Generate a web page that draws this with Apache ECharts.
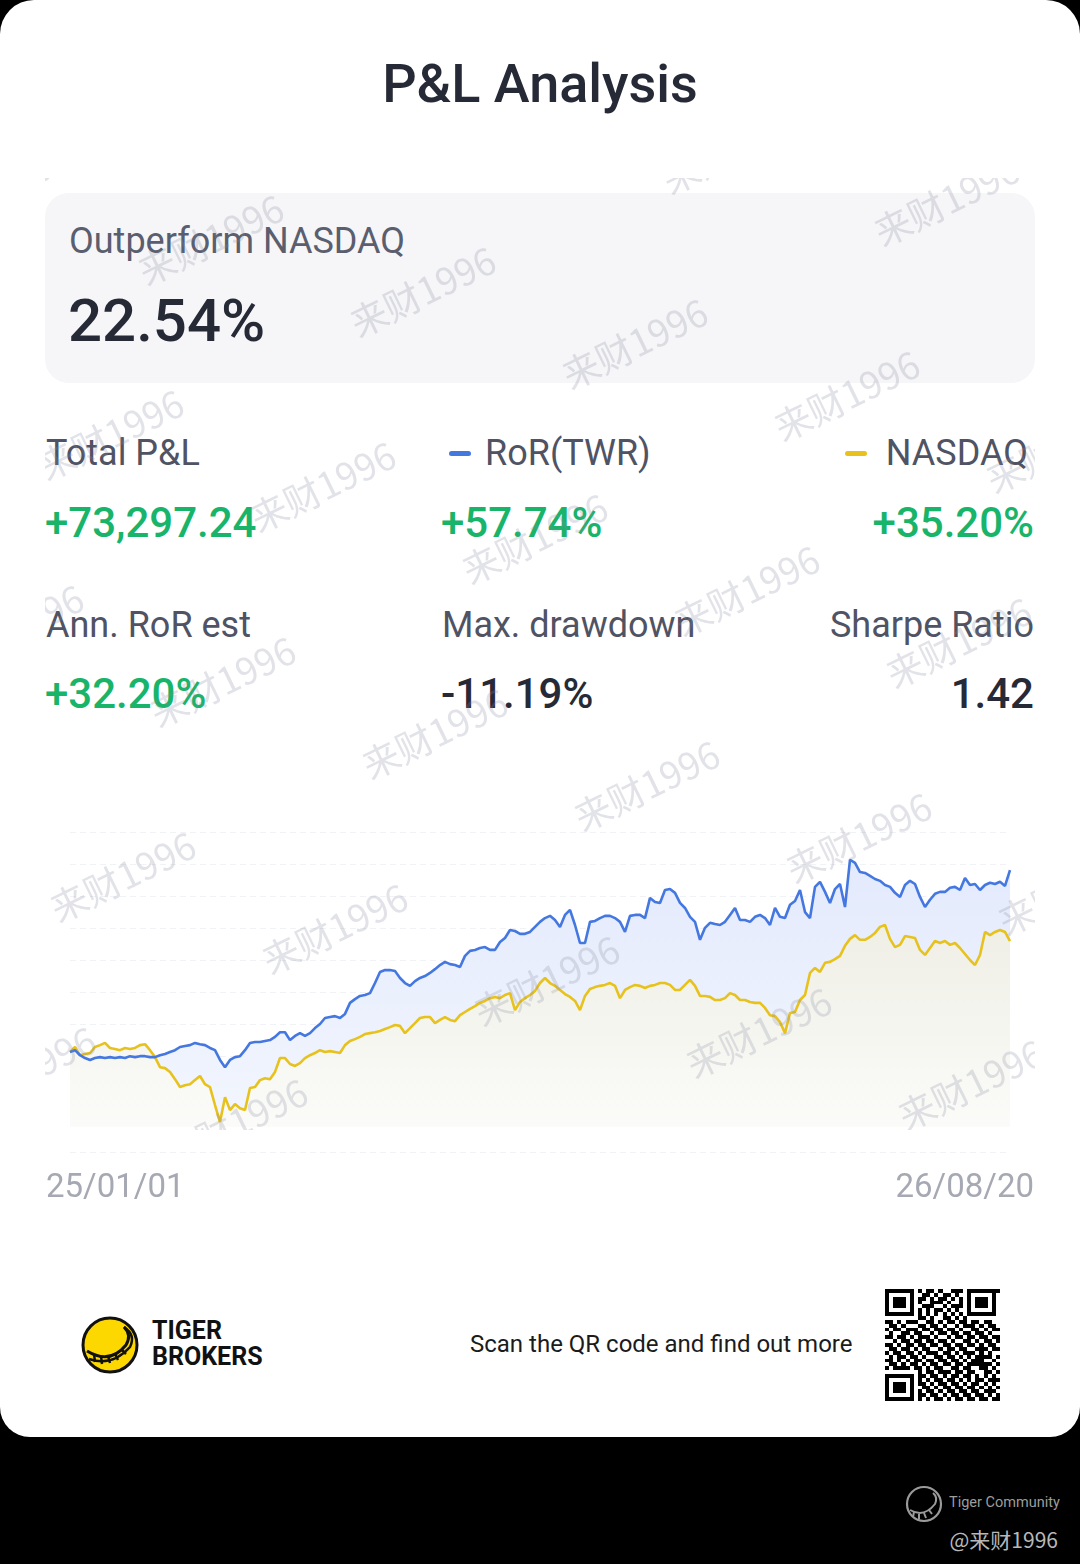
<!DOCTYPE html>
<html>
<head>
<meta charset="utf-8">
<script src="https://cdn.jsdelivr.net/npm/echarts@6.0.0/dist/echarts.min.js"></script>
<style>
  html, body { margin: 0; padding: 0; background: #000; }
  body { width: 1080px; height: 1564px; position: relative; overflow: hidden; font-family: Roboto, "Noto Sans", sans-serif; }
  .card { position: absolute; left: 0; top: 0; width: 1080px; height: 1437px; background: #fff; border-radius: 34px 34px 30px 30px; overflow: hidden; }
  .abs { position: absolute; white-space: nowrap; }
  .title { left: 0; width: 1080px; top: 52px; text-align: center; font-size: 54px; font-weight: 500; color: #262a36; }
  .box { left: 45px; top: 193px; width: 990px; height: 190px; background: #f6f6f8; border-radius: 24px; }
  .label { font-size: 36px; color: #4f5363; }
  .val { font-size: 42px; font-weight: 500; color: #262a36; }
  .green { color: #18b46a; }
  .dash { position: absolute; width: 22px; height: 5px; border-radius: 3px; }
  .date { font-size: 33px; color: #a6a9b3; top: 1166px; }
  #chart { position: absolute; left: 0; top: 800px; width: 1080px; height: 420px; }
  .wm { position: absolute; left: 45px; top: 178px; width: 990px; height: 952px; overflow: hidden; pointer-events: none; z-index: 5; }
  .wm span { position: absolute; font-family: "Noto Sans CJK SC", sans-serif; font-size: 37px; color: rgba(135, 140, 158, 0.24); white-space: nowrap; }
  .qr { position: absolute; left: 885px; top: 1289px; width: 115px; height: 112px; }
</style>
</head>
<body>
<div class="card">
  <div class="abs title">P&amp;L Analysis</div>
  <div class="abs box"></div>
  <div class="abs" style="left:69px; top:220px; font-size:36px; color:#5a5e6e;">Outperform NASDAQ</div>
  <div class="abs" style="left:68px; top:285px; font-size:60px; font-weight:500; color:#262a36;">22.54%</div>

  <div class="abs label" style="left:46px; top:432px;">Total P&amp;L</div>
  <div class="abs val green" style="left:45px; top:498px;">+73,297.24</div>
  <div class="dash" style="left:449px; top:451px; background:#4477e0;"></div>
  <div class="abs label" style="left:485px; top:432px;">RoR(TWR)</div>
  <div class="abs val green" style="left:441px; top:498px;">+57.74%</div>
  <div class="dash" style="left:845px; top:451px; background:#e8c21c;"></div>
  <div class="abs label" style="right:52px; top:432px;">NASDAQ</div>
  <div class="abs val green" style="right:46px; top:498px;">+35.20%</div>

  <div class="abs label" style="left:46px; top:604px;">Ann. RoR est</div>
  <div class="abs val green" style="left:45px; top:669px;">+32.20%</div>
  <div class="abs label" style="left:442px; top:604px;">Max. drawdown</div>
  <div class="abs val" style="left:441px; top:669px;">-11.19%</div>
  <div class="abs label" style="right:46px; top:604px;">Sharpe Ratio</div>
  <div class="abs val" style="right:46px; top:669px;">1.42</div>

  <div id="chart"></div>
  <div class="abs date" id="dateStart" style="left:46px;"></div>
  <div class="abs date" id="dateEnd" style="right:46px;"></div>

  <svg class="abs" style="left:80px; top:1315px;" width="60" height="60" viewBox="0 0 60 60">
    <circle cx="30" cy="30" r="27" fill="#fcd800" stroke="#111" stroke-width="3"/>
    <path d="M7 36 Q30 50 46 30 Q52 20 44 12" fill="none" stroke="#111" stroke-width="3"/>
    <path d="M9 44 Q32 52 50 32 Q56 20 44 12" fill="none" stroke="#111" stroke-width="2.5"/>
    <path d="M14 39 L15 47 M21 41 L22 49 M28 41 L30 48 M35 39 L38 45 M41 34 L46 39" stroke="#111" stroke-width="2.5"/>
  </svg>
  <div class="abs" style="left:152px; top:1318px; font-size:25px; font-weight:700; color:#111; line-height:26px;">TIGER<br>BROKERS</div>
  <div class="abs" style="left:470px; top:1330px; font-size:24px; color:#1b1b1b;">Scan the QR code and find out more</div>
  <svg class="qr" id="qr" viewBox="0 0 28 29" preserveAspectRatio="none" shape-rendering="crispEdges"></svg>

  <div class="wm" id="wm"></div>
</div>

<svg class="abs" style="left:904px; top:1484px;" width="40" height="40" viewBox="0 0 40 40">
  <circle cx="20" cy="20" r="17" fill="none" stroke="#9a9a9a" stroke-width="2.2"/>
  <path d="M6 26 Q20 34 31 20 Q34 13 29 9" fill="none" stroke="#9a9a9a" stroke-width="2"/>
  <path d="M10 28 L9 33 M15 30 L15 35 M20 29 L22 34 M25 26 L28 30" stroke="#9a9a9a" stroke-width="2"/>
</svg>
<div class="abs" style="left:949px; top:1494px; font-size:14.5px; color:#9d9d9d;">Tiger Community</div>
<div class="abs" style="right:22px; top:1524px; font-size:21px; color:#b8b8b8; font-family:'Noto Sans CJK SC', sans-serif;">@来财1996</div>

<script>
// RoR(TWR) and NASDAQ cumulative return, %
const rorData = [
  0, 0.6, -1.0, -1.9, -2.5, -1.9, -1.6, -1.9, -1.6, -1.9,
  -1.6, -1.9, -1.3, -1.6, -1.3, -1.3, -1.6, -1.6, -1.0, -0.6,
  0, 0.6, 1.6, 1.9, 2.2, 2.9, 2.5, 2.2, 1.3, 0.6,
  -2.5, -4.8, -2.5, -1.6, -1.3, 0.6, 2.9, 3.2, 3.2, 3.5,
  3.8, 4.8, 6.3, 6.3, 3.8, 5.1, 6.0, 5.1, 6.0, 7.6,
  8.9, 10.8, 11.1, 11.4, 10.8, 12.1, 15.6, 16.8, 17.8, 18.1,
  18.7, 21.9, 25.4, 26.0, 26.0, 25.7, 23.5, 21.9, 21.0, 22.5,
  23.5, 24.1, 25.1, 26.3, 27.6, 28.6, 27.9, 27.6, 27.0, 30.5,
  32.1, 32.4, 33.0, 33.3, 32.4, 32.4, 34.9, 36.2, 38.7, 38.4,
  37.5, 37.5, 38.1, 39.7, 41.3, 42.5, 43.2, 41.9, 39.7, 43.5,
  45.1, 40.3, 34.6, 34.6, 41.3, 41.6, 42.5, 43.2, 43.2, 42.5,
  41.3, 38.1, 43.2, 43.5, 43.5, 42.5, 48.9, 47.6, 47.3, 51.4,
  51.7, 50.5, 47.3, 45.7, 42.9, 41.3, 35.6, 39.4, 41.0, 40.6,
  40.3, 41.3, 43.5, 45.7, 41.9, 41.9, 41.3, 42.9, 43.5, 42.5,
  40.3, 45.7, 42.9, 42.5, 46.7, 47.9, 51.4, 44.4, 42.5, 52.4,
  54.0, 50.8, 47.3, 51.7, 53.3, 46.0, 61.0, 60.0, 57.1, 56.8,
  55.9, 54.9, 54.3, 53.0, 52.4, 50.5, 49.2, 53.0, 54.3, 53.3,
  49.2, 46.0, 48.3, 50.2, 50.8, 50.8, 52.1, 52.4, 51.4, 55.2,
  53.0, 53.3, 51.4, 53.0, 53.7, 53.3, 54.0, 52.7, 57.74
];
const nasdaqData = [
  0, 1.6, -1.0, -0.6, -0.3, 1.6, 2.2, 2.9, 1.3, 1.0,
  0.6, 1.3, 1.0, 1.3, 2.2, 2.5, 0.6, -1.6, -4.8, -5.1,
  -6.3, -8.6, -11.1, -10.5, -10.2, -8.9, -7.6, -10.2, -11.1, -16.8,
  -22.2, -14.3, -18.4, -16.5, -17.8, -18.4, -11.4, -11.1, -8.9, -8.3,
  -8.6, -6.3, -1.9, -1.9, -3.8, -4.4, -3.5, -1.9, -1.0, -0.3,
  0.6, 0, 0.3, 0, -0.3, 2.2, 3.5, 4.1, 4.8, 5.7,
  6.0, 6.3, 6.7, 7.3, 7.9, 8.6, 8.3, 6.0, 7.6, 9.2,
  10.8, 11.1, 11.1, 9.2, 10.2, 11.1, 10.2, 9.8, 11.7, 12.7,
  13.7, 14.6, 15.6, 16.2, 17.1, 17.5, 17.1, 18.1, 18.7, 13.3,
  15.9, 17.1, 18.1, 19.4, 21.9, 23.5, 21.9, 21.0, 19.7, 18.4,
  17.5, 16.2, 13.3, 17.8, 20.0, 20.6, 21.0, 21.3, 21.9, 21.0,
  17.1, 19.7, 20.6, 21.3, 21.0, 20.3, 21.0, 21.3, 21.9, 21.9,
  21.3, 19.7, 19.7, 21.3, 22.9, 21.0, 17.8, 17.8, 17.5, 16.5,
  16.5, 17.1, 18.7, 18.1, 16.5, 16.5, 15.9, 15.6, 15.6, 14.0,
  11.7, 11.4, 9.5, 6.0, 12.4, 12.7, 16.5, 18.1, 25.1, 26.7,
  25.4, 28.3, 28.6, 29.5, 30.5, 33.7, 35.9, 37.1, 35.6, 35.6,
  36.5, 37.8, 39.7, 40.3, 35.9, 33.3, 34.0, 36.8, 36.5, 36.2,
  32.4, 30.8, 33.0, 35.2, 34.6, 35.2, 34.0, 34.6, 33.0, 31.1,
  29.2, 27.6, 30.8, 38.1, 37.1, 38.1, 38.7, 38.1, 35.20
];
const dateLabels = ["25/01/01", "26/08/20"];
const xIndex = rorData.map((_, i) => i);

document.querySelector("#dateStart").innerText = dateLabels[0];
document.querySelector("#dateEnd").innerText = dateLabels[1];

const chart = echarts.init(document.querySelector("#chart"));
const grad = (top, bottom) => new echarts.graphic.LinearGradient(0, 0, 0, 1, [
    { offset: 0, color: top },
    { offset: 1, color: bottom },
]);

let option = {
    animation: false,
    grid: { left: 70, right: 70, top: 32, bottom: 68 },
    xAxis: { type: "category", data: xIndex, boundaryGap: false, show: false },
    yAxis: [
        { type: "value", min: -31.7, max: 69.8, show: false, splitLine: { show: false } },
        {
            type: "value", min: 0, max: 10, interval: 1,
            axisLine: { show: false }, axisTick: { show: false }, axisLabel: { show: false },
            splitLine: { lineStyle: { color: "#f1f2f5", width: 1, type: [6, 4] } },
        },
    ],
    series: [
        {
            // blue fill under RoR
            type: "line", data: rorData, showSymbol: false, z: 1,
            lineStyle: { width: 0 },
            areaStyle: { origin: -23.8, color: grad("#e3eafc", "#f3f6fe"), opacity: 1 },
        },
        {
            name: "NASDAQ", type: "line", data: nasdaqData, showSymbol: false, z: 2,
            lineStyle: { color: "#e8c21c", width: 2.6 },
            itemStyle: { color: "#e8c21c" },
            areaStyle: { origin: -23.8, color: grad("#efefe6", "#fbfbf9"), opacity: 1 },
        },
        {
            name: "RoR(TWR)", type: "line", data: rorData, showSymbol: false, z: 3,
            lineStyle: { color: "#4477e0", width: 2.6 },
            itemStyle: { color: "#4477e0" },
        },
    ],
};
chart.setOption(option);

// watermark tiles
const wm = document.querySelector("#wm");
for (let n = -2; n < 7; n++) {
    for (let m = -2; m < 7; m++) {
        const cx = 210 + 212 * m - 100 * n - 45;
        const cy = 238 + 52 * m + 195 * n - 178;
        if (cx < -120 || cx > 1110 || cy < -60 || cy > 1010) continue;
        const s = document.createElement("span");
        s.textContent = "来财1996";
        s.style.left = cx + "px";
        s.style.top = cy + "px";
        s.style.transform = "translate(-50%, -50%) rotate(-26deg)";
        wm.appendChild(s);
    }
}

// QR-like block pattern (decorative)
const qrRows = [
  "1111111010110100111011111111",
  "1000001001101011010010000010",
  "1011101011010110101010111010",
  "1011101010011101001010111010",
  "1011101001110010111010111010",
  "1000001010101101010010000010",
  "1111111010101010101011111110",
  "0000000011010011010100000000",
  "1101011100110101101101101100",
  "0110100011011010010111010110",
  "1011011101101101101001101011",
  "0100110110010110110110110100",
  "1101101011101001011011011011",
  "0010110110110110100110101101",
  "1101011011011011011011010110",
  "0110110101100101101100111011",
  "1011011010111011010111010100",
  "0101101101001101101010111101",
  "1101010110110110110101110010",
  "0110101101011011011011111101",
  "1011110110101100110110011010",
  "0000000010110111011011001101",
  "1111111011011010110110101010",
  "1000001010101101101010110111",
  "1011101011010110110101101010",
  "1011101001101011011011010101",
  "1011101010110101101101101110",
  "1000001011011010110110110101",
  "1111111010101101011011011011",
];
const qr = document.querySelector("#qr");
let rects = "";
qrRows.forEach((row, r) => {
    for (let c = 0; c < row.length; c++) {
        if (row[c] === "1") rects += `<rect x="${c}" y="${r}" width="1" height="1" fill="#000"/>`;
    }
});
qr.innerHTML = rects;
</script>
</body>
</html>
